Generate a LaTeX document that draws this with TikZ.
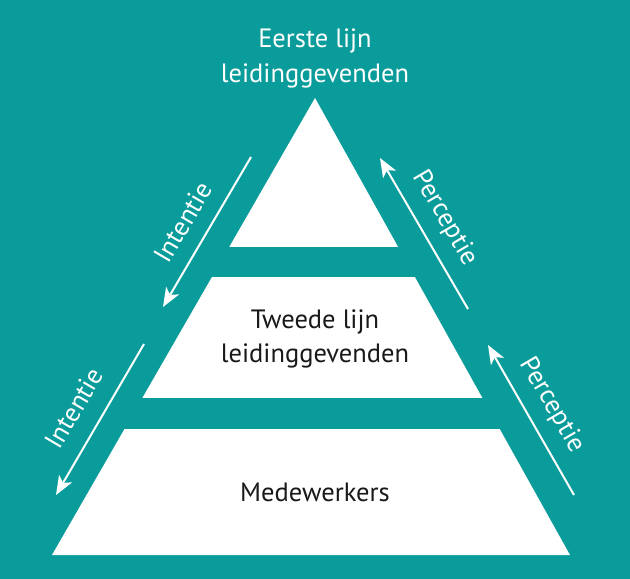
\documentclass[tikz,border=0pt]{standalone}
\usepackage{fontspec}
\setmainfont{PT Sans}
\usetikzlibrary{arrows.meta}
\definecolor{teal}{RGB}{10,155,155}
\definecolor{ink}{RGB}{25,25,25}
\begin{document}
\begin{tikzpicture}[x=1pt,y=-1pt,
  lbl/.style={font=\fontsize{26.5}{35}\selectfont, align=center, inner sep=0pt},
  flow/.style={white, line width=2pt, -{Stealth[length=19pt,width=15pt,inset=5pt]}},
  band/.style={fill=white}]
\fill[teal] (0,0) rectangle (630,579);
\useasboundingbox (0,0) rectangle (630,579);
\coordinate (apex) at (315,98);
\coordinate (bl) at (52,555);
\coordinate (br) at (570,555);
\begin{scope}
  \clip (0,90) rectangle (630,246);
  \fill[band] (apex) -- (bl) -- (br) -- cycle;
\end{scope}
\begin{scope}
  \clip (0,277) rectangle (630,397);
  \fill[band] (apex) -- (bl) -- (br) -- cycle;
\end{scope}
\begin{scope}
  \clip (0,429) rectangle (630,555);
  \fill[band] (apex) -- (bl) -- (br) -- cycle;
\end{scope}
\node[lbl, white, anchor=base] (top1) at (315,47) {Eerste lijn};
\node[lbl, white, anchor=base] (top2) at (315,82) {leidinggevenden};
\node[lbl, ink, anchor=base] (mid1) at (315,328) {Tweede lijn};
\node[lbl, ink, anchor=base] (mid2) at (315,362) {leidinggevenden};
\node[lbl, ink, anchor=base] (bot) at (315,501) {Medewerkers};
\coordinate (i1s) at (251,157);
\coordinate (i1e) at (163,307);
\coordinate (i2s) at (144,344);
\coordinate (i2e) at (56,495);
\coordinate (p1s) at (468,309);
\coordinate (p1e) at (380,158);
\coordinate (p2s) at (574,495);
\coordinate (p2e) at (488,345);
\draw[flow] (i1s) -- (i1e);
\draw[flow] (i2s) -- (i2e);
\draw[flow] (p1s) -- (p1e);
\draw[flow] (p2s) -- (p2e);
\node[lbl, white, rotate=59.6] (int1) at (183,222) {Intentie};
\node[lbl, white, rotate=59.6] (int2) at (74,408) {Intentie};
\node[lbl, white, rotate=-59.7] (per1) at (445,218) {Perceptie};
\node[lbl, white, rotate=-59.7] (per2) at (552,405) {Perceptie};
\end{tikzpicture}
\end{document}
